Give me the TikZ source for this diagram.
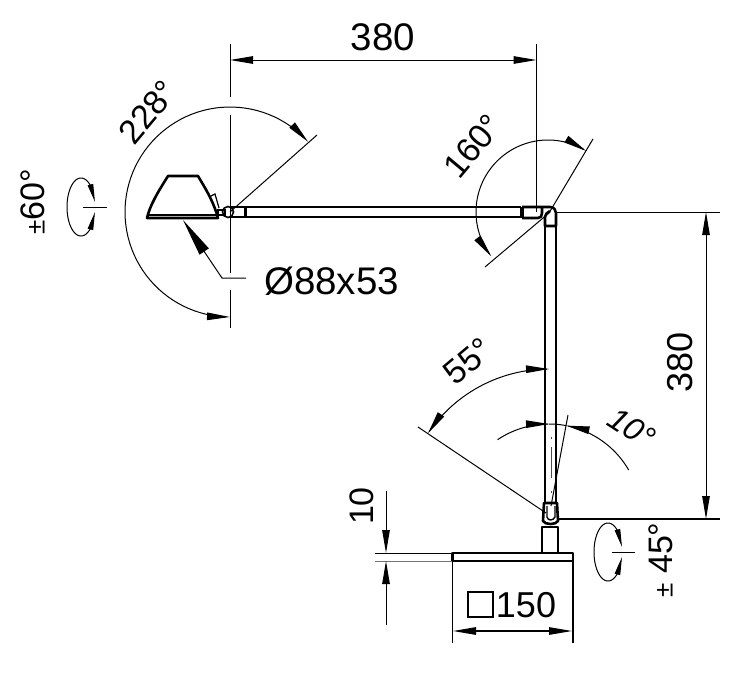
\documentclass[tikz,border=0pt]{standalone}
\usepackage{fontspec}
\setmainfont{Liberation Sans}
\usetikzlibrary{arrows.meta}
\tikzset{
  thinl/.style={line width=1pt,black},
  thick2/.style={line width=2.6pt,black,line join=round},
  dimtip/.tip={Triangle[length=23pt,width=7.5pt]},
  rottip/.tip={Triangle[length=18pt,width=5.5pt]},
  leadtip/.tip={Triangle[length=38pt,width=11pt]},
  dim/.style={thinl},
  lbl/.style={inner sep=0pt,font=\fontsize{38.5}{38.5}\selectfont},
  lblb/.style={inner sep=0pt,font=\fontsize{34}{34}\selectfont},
}
\newcommand{\dimarc}[6]{\draw[dim,#6] plot[domain=#4:#5,samples=70] ({#1+#3*cos(\x)},{#2-#3*sin(\x)});}
\newcommand{\rotarc}[2]{%
  \draw[dim] plot[domain=45:315,samples=90] ({#1+14*cos(\x)},{#2-29*sin(\x)});
  \draw[dim,-rottip] ({#1+9.9},{#2-20.5}) -- ({#1+14},{#2-5});
  \draw[dim,-rottip] ({#1+9.9},{#2+20.5}) -- ({#1+14},{#2+5});}
\begin{document}
\begin{tikzpicture}[x=1pt,y=-1pt]
\useasboundingbox (0,0) rectangle (740,673);
% --- reference points
\coordinate (hT) at (230,44);
\coordinate (hA) at (230,60);
\coordinate (eT) at (536.5,44);
\coordinate (eA) at (536.5,60);
\coordinate (eB) at (536.5,212);
\coordinate (rA) at (706,212);
\coordinate (rB) at (706,519);
\coordinate (r1s) at (556,212);
\coordinate (r1e) at (720,212);
\coordinate (r2s) at (557,519);
\coordinate (r2e) at (720,519);
% --- lamp head
\draw[thick2] (147,218) .. controls (150,205) and (158,192) .. (168,176) -- (198,176) .. controls (205,188) and (213,200) .. (218,218) -- cycle;
\draw[line width=1.2pt] (148,215) -- (217,215);
\draw[line width=1.2pt] (211,196) -- (215,194) -- (219,208);
\draw[line width=1.6pt] (218,210) rectangle (225,215);
\draw[line width=1.6pt] (228,212) circle (5.5);
% --- horizontal arm
\draw[thick2] (231,207) -- (521,207);
\draw[thick2] (231,217) -- (521,217);
\draw[line width=3pt] (245,207) -- (245,217);
\draw[line width=3.2pt] (522,207) -- (522,218);
\draw[thick2] (522,218) -- (538,218) .. controls (541,218) and (542,216) .. (542,213) -- (542,207);
\draw[thick2] (522,207) -- (550,207) .. controls (554,207) and (556,210) .. (556,213) -- (556,226) -- (545,226) -- (545,217) .. controls (545,215) and (547,212) .. (550,211);
% --- vertical arm
\draw[thick2] (545,226) -- (545,503);
\draw[thick2] (556,226) -- (556,503);
\draw[line width=1pt,black!70] (551,437) -- (551,439);
\draw[line width=1pt,black!70] (551,447) -- (551,478);
\draw[line width=1pt,black!70] (551,491) -- (551,493);
% --- lower joint, post, base
\draw[thick2] (544,503) -- (557,503) -- (558,521) .. controls (556,525) and (545,525) .. (543,521) -- cycle;
\draw[line width=1.4pt] (547,506) -- (547,517) .. controls (548,521) and (553,521) .. (555,517) -- (555,506);
\draw[thick2] (542,553) -- (542,527) -- (558,527) -- (558,553);
\draw[thick2] (452.5,561) -- (452.5,553) -- (573,553) -- (573,561) -- cycle;
\draw[line width=1.4pt] (452.5,561) -- (452.5,643);
\draw[line width=1.4pt] (573,561) -- (573,643);
% --- extension lines
\draw[thinl] (hT) -- (230,97);
\draw[thinl] (230,115) -- (230,273);
\draw[thinl] (230,290) -- (230,328);
\draw[thinl] (eT) -- (eB);
\draw[thinl] (r1s) -- (r1e);
\draw[thinl,line width=1.2pt] (r2s) -- (r2e);
\draw[thinl] (375,553.5) -- (452,553.5);
\draw[thinl,black!55] (375,561) -- (452,561);
% --- linear dimensions
\draw[dim,dimtip-dimtip] (hA) -- (eA);
\draw[dim,dimtip-dimtip] (rA) -- (rB);
\coordinate (bL) at (453,631);
\coordinate (bR) at (572,631);
\draw[dim,line width=1.2pt,dimtip-dimtip] (bL) -- (bR);
\coordinate (t1) at (386,491);
\coordinate (t2) at (386,553);
\coordinate (t3) at (386,625);
\coordinate (t4) at (386,561);
\draw[dim,-dimtip] (t1) -- (t2);
\draw[dim,-dimtip] (t3) -- (t4);
% --- head angle
\dimarc{230}{212}{105}{42}{270}{dimtip-dimtip}
\coordinate (hc) at (230,212);
\coordinate (hl) at (317,135);
\draw[thinl] (hc) -- (hl);
% --- elbow angle
\dimarc{548}{212}{72}{58}{218}{dimtip-dimtip}
\coordinate (ec) at (549,213);
\coordinate (eu) at (593,139);
\coordinate (el) at (485,267);
\draw[thinl] (ec) -- (eu);
\draw[thinl] (ec) -- (el);
% --- 55 deg
\dimarc{549}{515}{146}{90}{146}{dimtip-dimtip}
\coordinate (bc) at (546,513);
\coordinate (b5) at (418,427);
\draw[thinl] (bc) -- (b5);
% --- 10 deg
\dimarc{549}{516}{92}{124}{90}{-dimtip}
\dimarc{549}{516}{92}{30}{79}{-dimtip}
\dimarc{549}{516}{92}{79}{90}{}
\coordinate (c1) at (551,506);
\coordinate (c2) at (568,415);
\draw[thinl] (c1) -- (c2);
% --- rotation symbols
\rotarc{81}{207}
\draw[thinl] (83,207) -- (107,207);
\rotarc{608}{552}
\draw[thinl] (612,552) -- (635,552);
% --- leader
\coordinate (lt) at (183,220);
\coordinate (lm) at (222,278);
\coordinate (le) at (246,278);
\draw[thinl,leadtip-] (lt) -- (lm) -- (le);
% --- square symbol
\node[draw,line width=1.2pt,minimum width=25pt,minimum height=25pt,inner sep=0pt] (sq) at (480.5,604.5) {};
% --- labels
\node[lbl] (n380a) at (383,37) {380};
\node[lbl,rotate=90,font=\fontsize{36}{36}\selectfont] (n380b) at (680,362) {380};
\node[lblb,rotate=50] (n228) at (148,112) {228°};
\node[lblb,rotate=50] (n160) at (473,146) {160°};
\node[lblb,rotate=90] (n60) at (33,202) {{\fontsize{26}{26}\selectfont ±}60°};
\node[lbl,anchor=west] (n88) at (264,281) {Ø88x53};
\node[lblb,rotate=40] (n55) at (468,361) {55°};
\node[lblb,rotate=-33,font=\fontsize{32}{32}\selectfont\itshape] (n10) at (632,428) {10°};
\node[lblb,rotate=90] (n10b) at (362,506) {10};
\node[lblb,rotate=90] (n45) at (661,560) {{\fontsize{26}{26}\selectfont ±} 45°};
\node[lbl,font=\fontsize{36}{36}\selectfont] (n150) at (526,605) {150};
\end{tikzpicture}
\end{document}
